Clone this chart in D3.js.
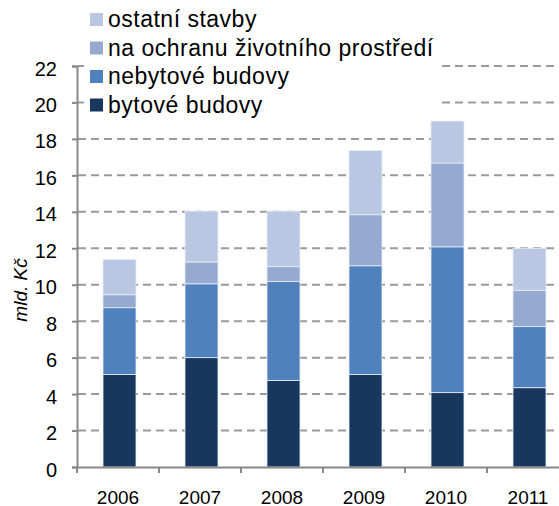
<!DOCTYPE html>
<html>
<head>
  <meta charset='utf-8'/>
  <style>
body { margin: 0; background: #fff; }
text { font-family: "Liberation Sans", Arial, sans-serif; fill: #000; }
.grid line { stroke: #9a9a9a; stroke-width: 2px; stroke-dasharray: 8,5; }
  </style>
  <script src="https://d3js.org/d3.v7.min.js"></script>
</head>
<body>
<svg width="559" height="506"></svg>
<script>

var years = ["2006", "2007", "2008", "2009", "2010", "2011"];
var seriesNames = ["bytové budovy", "nebytové budovy", "na ochranu životního prostředí", "ostatní stavby"];
var colors = ["#17375e", "#4f81bd", "#95a9d1", "#b9c7e2"];
// segment values, mld. Kč
var bytove = [5.08, 6.0, 4.75, 5.08, 4.08, 4.35];
var nebytove = [3.66, 4.05, 5.42, 5.96, 8.0, 3.35];
var ochrana = [0.71, 1.2, 0.82, 2.8, 4.6, 2.0];
var ostatni = [1.94, 2.79, 3.05, 3.53, 2.3, 2.3];
var yTicks = [0, 2, 4, 6, 8, 10, 12, 14, 16, 18, 20, 22];

var rows = years.map(function(y, i) {
  return { year: y, s0: bytove[i], s1: nebytove[i], s2: ochrana[i], s3: ostatni[i] };
});

var svg = d3.select("svg");
var plotLeft = 78, plotBottom = 467, plotTop = 66;

var x = d3.scaleBand().domain(years).range([plotLeft, plotLeft + 6 * 82]);
var y = d3.scaleLinear().domain([0, 22]).range([plotBottom, plotTop]);

// gridlines
svg.append("g").attr("class", "grid")
  .selectAll("line").data(yTicks.slice(1)).enter().append("line")
    .attr("x1", plotLeft).attr("x2", 559)
    .attr("y1", function(d) { return y(d); })
    .attr("y2", function(d) { return y(d); });

var stack = d3.stack().keys(["s0", "s1", "s2", "s3"]);
var layers = stack(rows);

var bw = 33;
svg.append("g").selectAll("g").data(layers).enter().append("g")
    .attr("fill", function(d, i) { return colors[i]; })
  .selectAll("rect").data(function(d) { return d; }).enter().append("rect")
    .attr("x", function(d) { return x(d.data.year) + x.bandwidth() / 2 - bw / 2 + 0.5; })
    .attr("width", bw)
    .attr("y", function(d) { return y(d[1]); })
    .attr("height", function(d) { return y(d[0]) - y(d[1]); })
    .attr("stroke", "#e8eef8").attr("stroke-width", 0.8);

// y axis
var yAxis = svg.append("g").attr("transform", "translate(" + (plotLeft - 1) + ",0)")
  .call(d3.axisLeft(y).tickValues(yTicks).tickSize(5).tickPadding(15));
yAxis.select(".domain").attr("stroke", "#888").attr("stroke-width", 2);
yAxis.selectAll(".tick line").attr("stroke", "#888").attr("stroke-width", 2);
yAxis.selectAll(".tick text").style("font-size", "20px")
  .style("font-family", "'Liberation Sans', Arial, sans-serif").attr("fill", "#000").attr("dy", "0.45em");

// x axis
var boundaries = d3.range(7).map(function(i) { return plotLeft + i * 82 - 1; });
svg.append("line").attr("x1", plotLeft - 2).attr("x2", 559)
  .attr("y1", plotBottom + 0.5).attr("y2", plotBottom + 0.5)
  .attr("stroke", "#888").attr("stroke-width", 2);
svg.append("g").selectAll("line").data(boundaries).enter().append("line")
  .attr("x1", function(d) { return d; }).attr("x2", function(d) { return d; })
  .attr("y1", plotBottom).attr("y2", plotBottom + 6)
  .attr("stroke", "#888").attr("stroke-width", 2);
svg.append("g").selectAll("text").data(years).enter().append("text")
  .attr("x", function(d) { return x(d) + x.bandwidth() / 2 - 1; })
  .attr("y", 504)
  .attr("text-anchor", "middle")
  .style("font-size", "19px")
  .text(function(d) { return d; });

// y label
svg.append("text")
  .attr("transform", "translate(27,290) rotate(-90)")
  .attr("text-anchor", "middle")
  .style("font-size", "19px").style("font-style", "italic")
  .text("mld. Kč");

// legend
var legend = svg.append("g");
legend.append("rect").attr("x", 84).attr("y", 0).attr("width", 356).attr("height", 114).attr("fill", "#fff");
var order = [3, 2, 1, 0];
var li = legend.selectAll("g").data(order).enter().append("g")
  .attr("transform", function(d, i) { return "translate(90," + (13 + i * 28.5) + ")"; });
li.append("rect").attr("width", 13).attr("height", 13)
  .attr("fill", function(d) { return colors[d]; });
li.append("text").attr("x", 18).attr("y", 14)
  .style("font-size", "23px").style("letter-spacing", "0.5px")
  .text(function(d) { return seriesNames[d]; });

</script>
</body>
</html>
